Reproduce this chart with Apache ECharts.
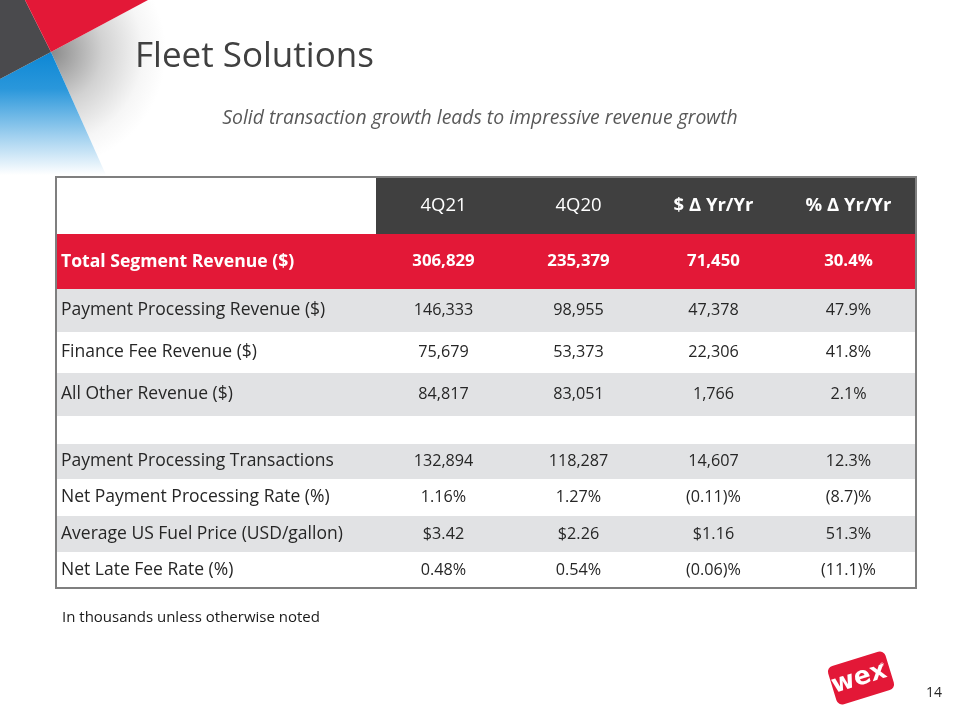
<!DOCTYPE html>
<html>
<head>
<meta charset="utf-8">
<title>Fleet Solutions</title>
<script src="https://cdn.jsdelivr.net/npm/echarts@6/dist/echarts.min.js"></script>
<style>
  html, body { margin: 0; padding: 0; background: #fff; }
  #chart { width: 960px; height: 720px; }
</style>
</head>
<body>
<div id="chart"></div>
<script>
// table content
const columns = ['4Q21', '4Q20', '$ Δ Yr/Yr', '% Δ Yr/Yr'];
const rowLabels = [
    'Total Segment Revenue ($)',
    'Payment Processing Revenue ($)',
    'Finance Fee Revenue ($)',
    'All Other Revenue ($)',
    '',
    'Payment Processing Transactions',
    'Net Payment Processing Rate (%)',
    'Average US Fuel Price (USD/gallon)',
    'Net Late Fee Rate (%)'
];
const q421 = ['306,829', '146,333', '75,679', '84,817', '', '132,894', '1.16%', '$3.42', '0.48%'];
const q420 = ['235,379', '98,955', '53,373', '83,051', '', '118,287', '1.27%', '$2.26', '0.54%'];
const dollarChange = ['71,450', '47,378', '22,306', '1,766', '', '14,607', '(0.11)%', '$1.16', '(0.06)%'];
const pctChange = ['30.4%', '47.9%', '41.8%', '2.1%', '', '12.3%', '(8.7)%', '51.3%', '(11.1)%'];

// layout of the table (column widths / row heights in px)
const colWidths = [320, 135, 135, 135, 135];
const rowHeights = [57, 55, 43, 41, 43, 28, 35, 37, 36, 36];

const FONT = "'Open Sans', 'Noto Sans', sans-serif";
const RED = '#e31837';

const helper = {
    sum(arr) {
        return arr.reduce((a, b) => a + b, 0);
    },
    edge(arr, i) {
        return this.sum(arr.slice(0, i));
    }
};

const valueCols = [q421, q420, dollarChange, pctChange];
const cells = [{ row: 0, col: 0, text: '' }];
columns.forEach((name, c) => cells.push({ row: 0, col: c + 1, text: name }));
rowLabels.forEach((label, i) => {
    cells.push({ row: i + 1, col: 0, text: label });
    valueCols.forEach((vals, c) => cells.push({ row: i + 1, col: c + 1, text: vals[i] }));
});

function cellStyle(cell) {
    const label = cell.col === 0;
    if (cell.row === 0) {
        return { bg: label ? '#ffffff' : '#404040', color: '#ffffff', weight: cell.col >= 3 ? 'bold' : 'normal', size: 18.5 };
    }
    if (cell.row === 1) return { bg: RED, color: '#ffffff', weight: 'bold', size: label ? 17.6 : 16.8 };
    const i = cell.row - 1;
    return { bg: i % 2 === 1 ? '#e1e2e4' : '#ffffff', color: '#262626', weight: 'normal', size: label ? 17.5 : 16.2 };
}

function renderCell(params, api) {
    const cell = cells[params.dataIndex];
    const x0 = helper.edge(colWidths, api.value(0));
    const y0 = helper.edge(rowHeights, api.value(1));
    const p0 = api.coord([x0, y0]);
    const p1 = api.coord([x0 + colWidths[cell.col], y0 + rowHeights[cell.row]]);
    const st = cellStyle(cell);
    const left = cell.col === 0;
    return {
        type: 'group',
        children: [{
            type: 'rect',
            shape: { x: p0[0], y: p0[1], width: p1[0] - p0[0], height: p1[1] - p0[1] },
            style: { fill: st.bg }
        }, {
            type: 'text',
            style: {
                text: cell.text,
                x: left ? p0[0] + 5 : (p0[0] + p1[0]) / 2,
                y: (p0[1] + p1[1]) / 2,
                align: left ? 'left' : 'center',
                verticalAlign: 'middle',
                fill: st.color,
                fontSize: st.size,
                fontWeight: st.weight,
                fontFamily: FONT
            }
        }]
    };
}

const option = {
    animation: false,
    backgroundColor: '#ffffff',
    title: [{
        text: 'Fleet Solutions',
        left: 130,
        top: 35,
        textStyle: { fontSize: 35, fontWeight: 'normal', color: '#404040', fontFamily: FONT }
    }, {
        text: 'Solid transaction growth leads to impressive revenue growth',
        left: 'center',
        top: 104,
        textStyle: { fontSize: 19.4, fontWeight: 'normal', fontStyle: 'italic', color: '#595959', fontFamily: FONT }
    }, {
        text: 'In thousands unless otherwise noted',
        left: 57,
        top: 605,
        textStyle: { fontSize: 15, fontWeight: 'normal', color: '#1a1a1a', fontFamily: FONT }
    }, {
        text: '14',
        left: 921,
        top: 681,
        textStyle: { fontSize: 14, fontWeight: 'normal', color: '#262626', fontFamily: FONT }
    }],
    grid: {
        left: 56,
        top: 177,
        width: helper.sum(colWidths),
        height: helper.sum(rowHeights),
        show: true,
        backgroundColor: 'transparent',
        borderColor: '#7f7f7f',
        borderWidth: 2,
        z: 10
    },
    xAxis: {
        type: 'value',
        min: 0,
        max: helper.sum(colWidths),
        show: false
    },
    yAxis: {
        type: 'value',
        min: 0,
        max: helper.sum(rowHeights),
        inverse: true,
        show: false
    },
    series: [{
        type: 'custom',
        z: 1,
        renderItem: renderCell,
        data: cells.map(d => [d.col, d.row])
    }],
    graphic: [{
        // corner decoration
        type: 'polygon',
        shape: { points: [[51, 52], [148, 0], [240, 0], [240, 175], [106, 175]] },
        style: {
            fill: new echarts.graphic.RadialGradient(51, 52, 115, [
                { offset: 0, color: '#8a8a8a' },
                { offset: 0.45, color: '#d2d2d2' },
                { offset: 0.8, color: '#f6f6f6' },
                { offset: 1, color: '#ffffff' }
            ], true)
        },
        silent: true
    }, {
        type: 'polygon',
        shape: { points: [[0, 79], [51, 52], [106, 175], [0, 175]] },
        style: {
            fill: new echarts.graphic.LinearGradient(0, 0, 0, 1, [
                { offset: 0, color: '#0d87d4' },
                { offset: 0.3, color: '#2a97db' },
                { offset: 0.7, color: '#a6d3f0' },
                { offset: 1, color: '#ffffff' }
            ])
        },
        silent: true
    }, {
        type: 'polygon',
        shape: { points: [[0, 0], [25, 0], [51, 52], [0, 79]] },
        style: { fill: '#4a4a4d' },
        silent: true
    }, {
        type: 'polygon',
        shape: { points: [[25, 0], [148, 0], [51, 52]] },
        style: { fill: RED },
        silent: true
    }, {
        // logo
        type: 'group',
        x: 861,
        y: 678,
        rotation: 17 * Math.PI / 180,
        silent: true,
        children: [{
            type: 'rect',
            shape: { x: -30, y: -20, width: 60, height: 40, r: 6 },
            style: { fill: RED }
        }, {
            type: 'text',
            style: {
                text: 'wex',
                x: -2,
                y: 0,
                align: 'center',
                verticalAlign: 'middle',
                fill: '#ffffff',
                fontSize: 25,
                fontWeight: 'bold',
                fontFamily: "'DejaVu Sans', sans-serif"
            }
        }, {
            type: 'text',
            style: { text: '®', x: 22, y: -9, fill: '#ffffff', fontSize: 5, fontFamily: FONT }
        }]
    }]
};

echarts.init(document.getElementById('chart')).setOption(option);
</script>
</body>
</html>
